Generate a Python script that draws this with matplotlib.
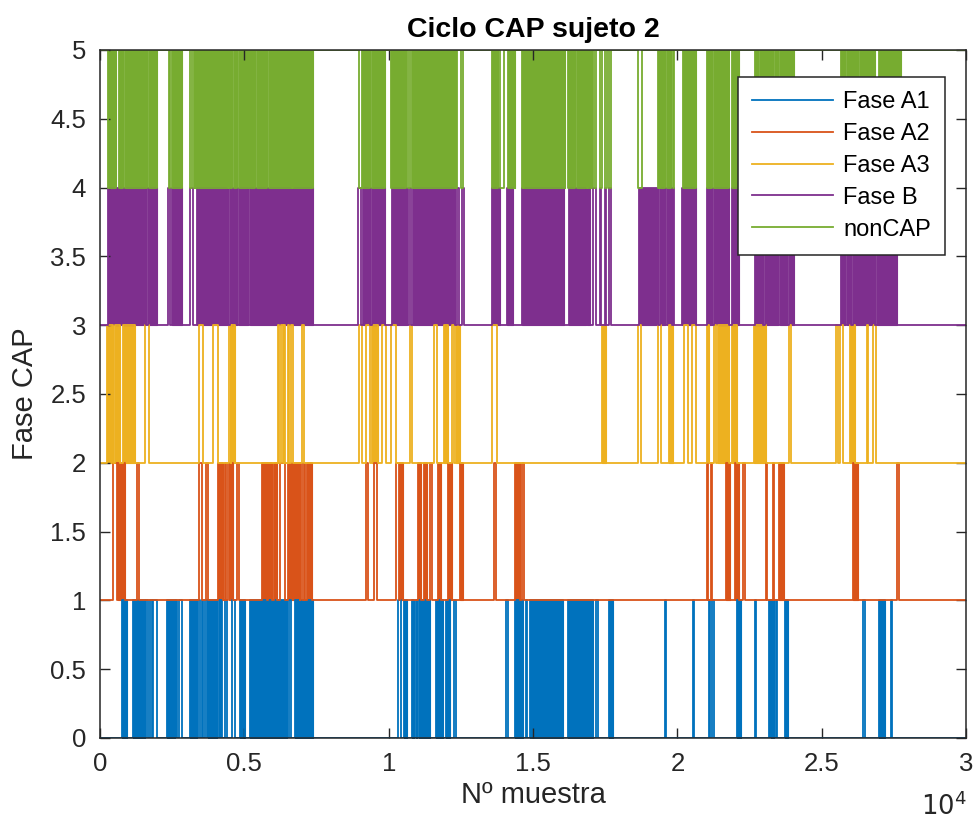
import matplotlib.pyplot as plt
from matplotlib.ticker import FuncFormatter, MultipleLocator

plt.rcParams['font.family'] = ['Liberation Sans', 'DejaVu Sans']

n_muestras = 30000
fases = ['Fase A1', 'Fase A2', 'Fase A3', 'Fase B', 'nonCAP']
colores = ['#0072BD', '#D95319', '#EDB120', '#7E2F8E', '#77AC30']

# tramos con transiciones muy seguidas (se ven rellenos), en nº de muestra
a1_tramos = [(751, 947), (1155, 1559), (2333, 2598), (3118, 3349), (3753, 4041), (4850, 5023),
             (5196, 6480), (6755, 6850), (6900, 7390), (10520, 10635), (10820, 10866),
             (10935, 10993), (11039, 11420), (11651, 11700), (11740, 11882), (11975, 12113),
             (14365, 14653), (14900, 16040), (16200, 17060), (17620, 17770), (22078, 22194),
             (23245, 23349), (23730, 23845), (27000, 27200)]
# pulsos aislados (inicio, fin)
a1_pulsos = [(1594, 1674), (1732, 1790), (1847, 1963), (2640, 2680), (2748, 2829), (3406, 3470),
             (3530, 3580), (3637, 3695), (4110, 4150), (4195, 4235), (4330, 4388), (4561, 4677),
             (6540, 6620), (10323, 10439), (12263, 12321), (14053, 14134), (14760, 14800),
             (17171, 17251), (19560, 19620), (20543, 20583), (21097, 21140), (21200, 21270),
             (22700, 22740), (23170, 23220), (23420, 23460), (26440, 26500), (27400, 27450)]

a2_tramos = [(635, 866), (4076, 4273), (4503, 4619), (5600, 5780), (5830, 5960), (6030, 6120),
             (6524, 6928), (7159, 7332), (10381, 10497), (11016, 11132), (11210, 11320),
             (11709, 11824), (12055, 12194), (12459, 12590), (14365, 14538), (21690, 21810),
             (22000, 22150), (23522, 23695), (26100, 26240)]
a2_pulsos = [(462, 577), (1270, 1362), (3441, 3522), (3660, 3730), (4330, 4380), (4440, 4490),
             (4734, 4827), (6235, 6400), (6940, 6980), (7050, 7090), (9214, 9295), (9503, 9584),
             (10266, 10346), (11440, 11500), (13649, 13706), (14630, 14677), (21016, 21060),
             (21150, 21212), (22286, 22330), (23060, 23118), (23300, 23350), (27600, 27680)]

a3_tramos = [(254, 460), (510, 700), (808, 1212), (4550, 4677), (9430, 9640), (11917, 12055),
             (12321, 12460), (17400, 17520), (19720, 19860), (21020, 21100), (21400, 21780),
             (21880, 22060), (22650, 23060), (25980, 26160)]
a3_pulsos = [(1559, 1709), (3441, 3580), (3926, 4076), (4480, 4520), (6155, 6200), (6260, 6330),
             (6380, 6420), (6500, 6560), (6620, 6697), (7010, 7060), (8980, 9090), (9210, 9360),
             (9780, 9910), (10092, 10250), (10727, 10820), (11570, 11660), (12205, 12263),
             (13591, 13764), (18620, 18740), (19320, 19430), (20220, 20380), (20520, 20640),
             (21280, 21340), (23868, 23926), (25500, 25560), (25640, 25740), (26560, 26620),
             (26780, 26880)]

b_tramos = [(289, 1580), (1650, 1986), (2483, 2829), (3349, 4446), (4503, 4734), (4800, 5120),
            (5190, 7390), (9111, 9342), (9423, 9885), (10100, 10650), (10843, 12309),
            (13580, 13845), (14110, 14300), (14620, 16070), (16247, 16820), (16870, 16960),
            (18680, 19330), (19400, 19560), (19630, 19800), (20150, 20635), (21039, 21212),
            (21270, 21790), (21882, 22136), (22691, 22960), (23020, 23500), (23560, 23800),
            (23850, 24041), (25658, 25800), (25860, 26030), (26100, 26700), (26750, 26860),
            (26930, 27621)]
b_pulsos = [(2370, 2440), (3118, 3233), (8940, 9040), (10700, 10780), (12380, 12430),
            (12540, 12600), (17060, 17170), (17320, 17360), (17490, 17530), (17640, 17690),
            (19850, 19890)]

# nonCAP está activo por defecto: sus pulsos son bajadas
noncap_tramos = [(290, 570), (640, 800), (870, 1640), (1710, 1986), (2483, 2829), (3268, 4420),
                 (4480, 4570), (4630, 4740), (4800, 5380), (5430, 5800), (5860, 6640),
                 (6690, 7390), (9111, 9342), (9423, 9885), (10092, 10600), (10790, 12290),
                 (13580, 13787), (14134, 14365), (14688, 16097), (16224, 16444), (16513, 16859),
                 (16906, 17055), (19400, 19560), (19630, 19769), (20200, 20635), (21039, 21212),
                 (21270, 21790), (21882, 22136), (22691, 22800), (22860, 23320), (23380, 23500),
                 (23550, 23790), (23840, 24041), (25658, 25810), (25860, 26040), (26090, 26270),
                 (26320, 26850), (27000, 27250), (27300, 27430), (27470, 27737)]
noncap_pulsos = [(2380, 2430), (3130, 3200), (8960, 9060), (10680, 10740), (12340, 12380),
                 (12520, 12560), (13868, 13990), (14619, 14660), (17113, 17171), (17321, 17379),
                 (17494, 17552), (17633, 17691), (18650, 18760), (19320, 19380), (19850, 19880)]

tramos = [a1_tramos, a2_tramos, a3_tramos, b_tramos, noncap_tramos]
pulsos = [a1_pulsos, a2_pulsos, a3_pulsos, b_pulsos, noncap_pulsos]


def escalon(intervalos, base, activo=False):
    bajo, alto = base, base + 1
    if activo:
        bajo, alto = alto, bajo
    x, y = [0], [bajo]
    for s, e in sorted(intervalos):
        x += [s, s, e, e]
        y += [bajo, alto, alto, bajo]
    x.append(n_muestras)
    y.append(bajo)
    return x, y


fig = plt.figure(figsize=(9.77, 8.25), dpi=100)
ax = fig.add_axes([0.1024, 0.1055, 0.8864, 0.8339])

for k, (nombre, c) in enumerate(zip(fases, colores)):
    x, y = escalon(tramos[k] + pulsos[k], k, activo=(nombre == 'nonCAP'))
    ax.plot(x, y, color=c, lw=1.3, label=nombre)
    for s, e in tramos[k]:
        ax.fill_between([s, e], k, k + 1, color=c, lw=0.8)

ax.set_xlim(0, n_muestras)
ax.set_ylim(0, 5)
ax.xaxis.set_major_locator(MultipleLocator(5000))
ax.yaxis.set_major_locator(MultipleLocator(0.5))
ax.xaxis.set_major_formatter(FuncFormatter(lambda v, p: f'{v / 1e4:g}'))
ax.yaxis.set_major_formatter(FuncFormatter(lambda v, p: f'{v:g}'))
ax.tick_params(direction='in', length=7, width=1, top=True, right=True,
               labelsize=18.5, colors='#262626', pad=10)
for sp in ax.spines.values():
    sp.set_color('#262626')
    sp.set_linewidth(1.1)

ax.set_xlabel('Nº muestra', fontsize=21, color='#262626', labelpad=4)
ax.set_ylabel('Fase CAP', fontsize=21, color='#262626', labelpad=8)
ax.text(0.5, 1.029, 'Ciclo CAP sujeto 2', transform=ax.transAxes, ha='center', va='center',
        fontsize=20.5, fontweight='bold')
ax.text(1.0, -0.112, r'$10^{4}$', transform=ax.transAxes, ha='right', va='baseline',
        fontsize=18.5, color='#262626')

leg = ax.legend(loc='upper right', bbox_to_anchor=(0.976, 0.961), borderaxespad=0,
                fontsize=17, handlelength=3.4, handletextpad=0.45, labelspacing=0.42,
                borderpad=0.6, fancybox=False, framealpha=1, edgecolor='#262626')
leg.get_frame().set_linewidth(1.1)

fig.savefig('out.png', dpi=100)
